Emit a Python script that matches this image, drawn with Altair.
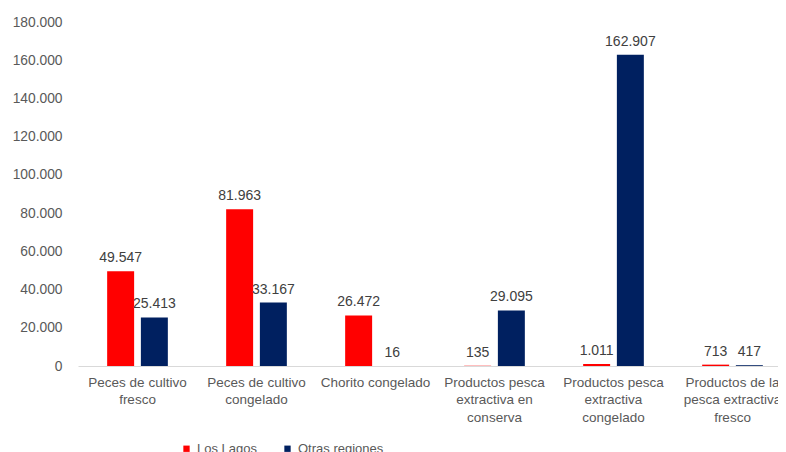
import altair as alt
import pandas as pd

categories = [
    "Peces de cultivo|fresco",
    "Peces de cultivo|congelado",
    "Chorito congelado",
    "Productos pesca|extractiva en|conserva",
    "Productos pesca|extractiva|congelado",
    "Productos de la|pesca extractiva|fresco",
]
series = ["Los Lagos", "Otras regiones"]
los_lagos = [49547, 81963, 26472, 135, 1011, 713]
otras_regiones = [25413, 33167, 16, 29095, 162907, 417]
colors = ["#FF0000", "#002060"]
y_ticks = [0, 20000, 40000, 60000, 80000, 100000, 120000, 140000, 160000, 180000]

rows = []
for c, a, b in zip(categories, los_lagos, otras_regiones):
    rows.append({"cat": c, "serie": series[0], "valor": a})
    rows.append({"cat": c, "serie": series[1], "valor": b})
df = pd.DataFrame(rows)

font = "Liberation Sans"

base = alt.Chart(df).encode(
    x=alt.X("cat:N", sort=categories,
            scale=alt.Scale(paddingInner=0.49, paddingOuter=0.245),
            axis=alt.Axis(title=None, labelAngle=0, labelExpr="split(datum.label, '|')",
                          labelFont=font, labelFontSize=13.5, labelColor="#595959",
                          labelLineHeight=17.5, labelPadding=9, labelBaseline="top",
                          domainColor="#d9d9d9", ticks=False)),
    xOffset=alt.XOffset("serie:N", sort=series, scale=alt.Scale(paddingInner=0.2, paddingOuter=0)),
    y=alt.Y("valor:Q", scale=alt.Scale(domain=[0, 180000], nice=False),
            axis=alt.Axis(title=None, values=y_ticks, format=",.0f", grid=False, domain=False,
                          ticks=False, labelFont=font, labelFontSize=13.8, labelColor="#595959",
                          labelPadding=16)),
)

bars = base.mark_bar().encode(
    color=alt.Color("serie:N", sort=series, scale=alt.Scale(domain=series, range=colors),
                    legend=alt.Legend(title=None, orient="none", legendX=102, legendY=420,
                                      direction="horizontal", symbolType="square", symbolSize=40,
                                      labelFont=font, labelFontSize=13, labelColor="#595959",
                                      columnPadding=24, labelOffset=4, symbolStrokeWidth=0)),
)

labels = base.mark_text(baseline="bottom", dy=-6, font=font, fontSize=14, color="#404040").encode(
    text=alt.Text("valor:Q", format=",.0f"),
)

chart = (bars + labels).properties(
    width=714, height=344,
    autosize=alt.AutoSizeParams(type="none"),
    padding={"left": 70, "top": 14, "right": -14, "bottom": 86},
).configure(
    locale={"number": {"decimal": ",", "thousands": ".", "grouping": [3], "currency": ["", ""]}}
).configure_view(stroke=None)

chart.save("out.html", embed_options={"renderer": "svg", "actions": False})
